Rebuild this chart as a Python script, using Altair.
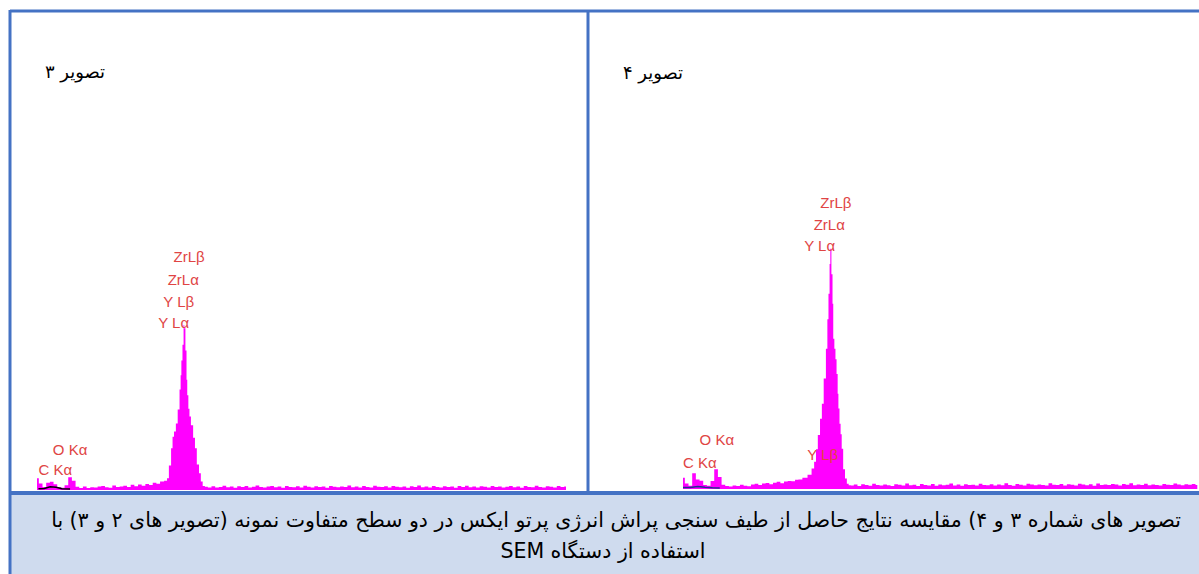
import altair as alt
import pandas as pd

# EDS spectra: counts per 0.05 keV channel, plus finer sampling across the Zr/Y L peak
STEP = 0.05

# --- Sample surface, image 3 ---
s3_low_counts = [118, 64, 31, 72, 83, 58, 29, 22, 47, 128, 92, 33, 21, 34, 19, 27, 24, 36,
                 41, 28, 23, 44, 31, 35, 42, 30, 52, 38, 55, 43, 61, 49, 72, 63, 84]
s3_peak_kev = [1.76, 1.78, 1.81, 1.84, 1.85, 1.88, 1.90, 1.93, 1.95, 1.96, 1.97, 1.99, 2.00,
               2.01, 2.03, 2.04, 2.05, 2.07, 2.08, 2.11, 2.14, 2.16, 2.19, 2.22, 2.24, 2.27]
s3_peak_counts = [92, 118, 246, 418, 532, 586, 664, 806, 1004, 1148, 1296, 1452, 1650,
                  1618, 1395, 1102, 947, 812, 736, 648, 522, 417, 256, 168, 84, 41]
s3_high_start = 2.30
s3_high_counts = [33, 26, 38, 24, 31, 42, 28, 35, 22, 37,
                  29, 41, 26, 33, 45, 30, 24, 36, 39, 27,
                  34, 23, 40, 31, 28, 37, 25, 43, 32, 26,
                  38, 29, 35, 22, 41, 33, 27, 36, 30, 44,
                  28, 35, 24, 39, 31, 26, 42, 33, 29, 37,
                  25, 40, 32, 27, 36, 23, 38, 30, 45, 28,
                  34, 26, 41, 31, 24, 37, 29, 35, 22, 39,
                  30, 43, 27, 34, 25, 38, 32, 26, 40, 29,
                  36, 24, 33, 41, 28, 35, 23, 39, 31, 27,
                  42, 30, 25, 37, 33, 26, 40, 29, 35]
s3_bg_kev = [0.02, 0.10, 0.18, 0.26, 0.34, 0.45]
s3_bg_counts = [12, 16, 32, 27, 12, 9]
s3_labels = ["ZrLβ", "ZrLα", "Y Lβ", "Y Lα", "O Kα", "C Kα"]
s3_label_kev = [2.07, 1.99, 1.93, 1.86, 0.45, 0.25]
s3_label_counts = [2330, 2100, 1880, 1670, 400, 200]

# --- Sample surface, image 4 ---
s4_low_counts = [112, 54, 33, 158, 94, 83, 41, 32, 79, 198, 121, 43, 31, 24, 35, 29, 42,
                 33, 28, 44, 52, 39, 56, 61, 48, 63, 72, 58, 74, 81, 77, 93]
s4_peak_kev = [1.59, 1.66, 1.73, 1.77, 1.80, 1.82, 1.85, 1.88, 1.90, 1.93,
               1.96, 1.97, 1.99, 2.00, 2.01, 2.03, 2.04, 2.05, 2.07, 2.08,
               2.10, 2.11, 2.12, 2.14, 2.15, 2.17, 2.19, 2.22, 2.24, 2.27]
s4_peak_counts = [96, 112, 143, 206, 272, 398, 541, 702, 853, 1104,
                  1402, 1698, 1952, 2251, 2402, 2148, 1853, 1502, 1402, 1298,
                  1151, 952, 804, 652, 548, 402, 198, 104, 52, 38]
s4_high_start = 2.30
s4_high_counts = [36, 44, 31, 48, 39, 33, 52, 41, 35, 46,
                  38, 29, 47, 42, 34, 55, 37, 43, 31, 49,
                  40, 35, 51, 33, 45, 38, 42, 56, 36, 44,
                  32, 48, 39, 43, 35, 53, 41, 37, 47, 34,
                  45, 38, 57, 40, 33, 49, 42, 36, 52, 44,
                  37, 46, 41, 34, 58, 43, 39, 50, 35, 47,
                  42, 36, 53, 45, 38, 48, 33, 55, 41, 46,
                  39, 51, 44, 36, 49, 42, 57, 38, 45, 40,
                  53, 37, 46, 41, 35, 50, 43, 39, 56, 44,
                  38, 47, 42, 51, 40]
s4_bg_kev = [0.00, 0.10, 0.20, 0.30, 0.40, 0.50]
s4_bg_counts = [14, 16, 24, 17, 12, 10]
s4_labels = ["ZrLβ", "ZrLα", "Y Lα", "Y Lβ", "O Kα", "C Kα"]
s4_label_kev = [2.08, 1.99, 1.86, 1.90, 0.46, 0.23]
s4_label_counts = [2860, 2640, 2430, 340, 490, 260]

title3 = "تصویر ۳"
title4 = "تصویر ۴"
caption_line1 = ("تصویر های شماره ۳ و ۴) مقایسه نتایج حاصل از طیف سنجی پراش انرژی "
                 "پرتو ایکس در دو سطح متفاوت نمونه (تصویر های ۲ و ۳) با")
caption_line2 = "استفاده از دستگاه SEM"

RLE, PDF = "\u202b", "\u202c"  # right-to-left embedding for the Persian lines

BORDER = "#4472C4"
CAPTION_BG = "#CFDBEE"
MAGENTA = "#FF00FF"
LABEL_RED = "#E04444"
FA_FONT = "DejaVu Sans"
LBL_FONT = "Liberation Sans"


def spectrum(low, peak_kev, peak_counts, high_start, high):
    kev = [round(i * STEP, 2) for i in range(len(low))]
    kev += list(peak_kev)
    kev += [round(high_start + i * STEP, 2) for i in range(len(high))]
    return pd.DataFrame({"kev": kev, "counts": list(low) + list(peak_counts) + list(high)})


s3 = spectrum(s3_low_counts, s3_peak_kev, s3_peak_counts, s3_high_start, s3_high_counts)
s4 = spectrum(s4_low_counts, s4_peak_kev, s4_peak_counts, s4_high_start, s4_high_counts)

one = alt.InlineData(values=[{"k": 0}])


def panel(df, bg_kev, bg_counts, labels, lab_kev, lab_counts, x_range, y_base, bg_color):
    xs = alt.Scale(domain=[0, 7.2], range=x_range, nice=False, zero=False)
    ys = alt.Scale(domain=[0, 4800], range=[y_base, y_base - 480], nice=False)
    x = alt.X("kev:Q", scale=xs, axis=None)
    y = alt.Y("counts:Q", scale=ys, axis=None)
    area = alt.Chart(df).mark_area(color=MAGENTA, interpolate="step").encode(x=x, y=y)
    bg = alt.Chart(pd.DataFrame({"kev": bg_kev, "counts": bg_counts})).mark_line(
        color=bg_color, strokeWidth=1.5).encode(x=x, y=y)
    lab = alt.Chart(pd.DataFrame({"kev": lab_kev, "counts": lab_counts, "t": labels})).mark_text(
        color=LABEL_RED, font=LBL_FONT, fontSize=15, align="center", baseline="middle"
    ).encode(x=x, y=y, text="t:N")
    return [area, bg, lab]


def rule(x1, x2, y1, y2, w):
    return alt.Chart(one).mark_rule(color=BORDER, strokeWidth=w).encode(
        x=alt.value(x1), x2=alt.value(x2), y=alt.value(y1), y2=alt.value(y2))


def fa_text(txt, x, y, size):
    return alt.Chart(one).mark_text(
        text=RLE + txt + PDF, font=FA_FONT, fontSize=size, color="black",
        align="center", baseline="middle"
    ).encode(x=alt.value(x), y=alt.value(y))


caption_bg = alt.Chart(one).mark_rect(color=CAPTION_BG).encode(
    x=alt.value(10), x2=alt.value(1199), y=alt.value(493), y2=alt.value(574))

layers = [caption_bg]
layers += panel(s3, s3_bg_kev, s3_bg_counts, s3_labels, s3_label_kev, s3_label_counts,
                [37, 566], 490, "black")
layers += panel(s4, s4_bg_kev, s4_bg_counts, s4_labels, s4_label_kev, s4_label_counts,
                [683, 1212], 489, "#1F2F8F")
layers += [
    rule(10, 1199, 11, 11, 3),
    rule(10, 10, 10, 574, 3),
    rule(588, 588, 11, 493, 3),
    rule(10, 1199, 493, 493, 4),
    fa_text(title3, 75, 73, 18),
    fa_text(title4, 653, 74, 18),
    fa_text(caption_line1, 616, 521, 20.5),
    fa_text(caption_line2, 603, 552, 20.5),
]

chart = alt.layer(*layers).resolve_scale(x="independent", y="independent").properties(
    width=1199, height=574, autosize=alt.AutoSizeParams(type="none"), padding=0,
    background="white"
).configure_view(stroke=None)

chart.save("out.html", embed_options={"renderer": "svg", "actions": False})
